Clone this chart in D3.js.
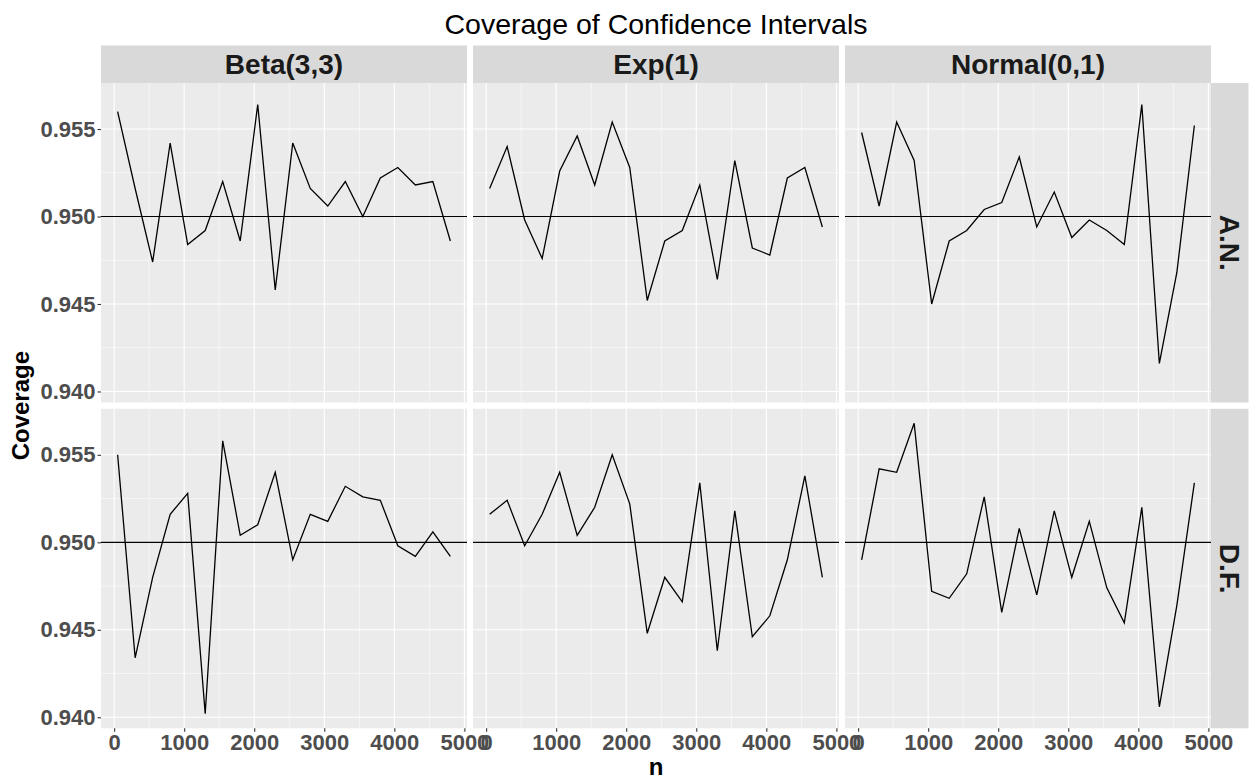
<!DOCTYPE html>
<meta charset="utf-8">
<style>

body {
  margin: 0;
  background-color: #fff;
}

svg {
  font-family: 'Liberation Sans', Arial, sans-serif;
  display: block;
}

.grid-major line {
  stroke: #fff;
  stroke-width: 1.1px;
}

.grid-minor line {
  stroke: #fff;
  stroke-width: 0.55px;
}

.axis path {
  display: none;
}

.axis line {
  stroke: #333;
  stroke-width: 1.1px;
}

.axis text {
  fill: #4d4d4d;
  font-size: 22px;
  font-weight: bold;
  font-family: 'Liberation Sans', Arial, sans-serif;
}

.strip text {
  fill: #1a1a1a;
  font-size: 28px;
  font-weight: bold;
}

</style>
<svg width="1250" height="779"></svg>
<script src="https://d3js.org/d3.v7.min.js"></script>
<script>
// sample sizes on the x axis
var nValues = [50, 300, 550, 800, 1050, 1300, 1550, 1800, 2050, 2300,
               2550, 2800, 3050, 3300, 3550, 3800, 4050, 4300, 4550, 4800];

var distributions = ["Beta(3,3)", "Exp(1)", "Normal(0,1)"];
var methods = ["A.N.", "D.F."];

// coverage
var betaAN   = [0.9560, 0.9516, 0.9474, 0.9542, 0.9484, 0.9492, 0.9520, 0.9486, 0.9564, 0.9458,
                0.9542, 0.9516, 0.9506, 0.9520, 0.9500, 0.9522, 0.9528, 0.9518, 0.9520, 0.9486];
var expAN    = [0.9516, 0.9540, 0.9498, 0.9476, 0.9526, 0.9546, 0.9518, 0.9554, 0.9528, 0.9452,
                0.9486, 0.9492, 0.9518, 0.9464, 0.9532, 0.9482, 0.9478, 0.9522, 0.9528, 0.9494];
var normalAN = [0.9548, 0.9506, 0.9554, 0.9532, 0.9450, 0.9486, 0.9492, 0.9504, 0.9508, 0.9534,
                0.9494, 0.9514, 0.9488, 0.9498, 0.9492, 0.9484, 0.9564, 0.9416, 0.9468, 0.9552];
var betaDF   = [0.9550, 0.9434, 0.9480, 0.9516, 0.9528, 0.9402, 0.9558, 0.9504, 0.9510, 0.9540,
                0.9490, 0.9516, 0.9512, 0.9532, 0.9526, 0.9524, 0.9498, 0.9492, 0.9506, 0.9492];
var expDF    = [0.9516, 0.9524, 0.9498, 0.9516, 0.9540, 0.9504, 0.9520, 0.9550, 0.9522, 0.9448,
                0.9480, 0.9466, 0.9534, 0.9438, 0.9518, 0.9446, 0.9458, 0.9490, 0.9538, 0.9480];
var normalDF = [0.9490, 0.9542, 0.9540, 0.9568, 0.9472, 0.9468, 0.9482, 0.9526, 0.9460, 0.9508,
                0.9470, 0.9518, 0.9480, 0.9512, 0.9474, 0.9454, 0.9520, 0.9406, 0.9464, 0.9534];

var nominal = 0.95;
var xTicks = [0, 1000, 2000, 3000, 4000, 5000];
var xMinor = [500, 1500, 2500, 3500, 4500];
var yTicks = [0.940, 0.945, 0.950, 0.955];
var yMinor = [0.9425, 0.9475, 0.9525];

var series = [
  [betaAN, expAN, normalAN],
  [betaDF, expDF, normalDF]
];

var svg = d3.select("svg");

var panelLeft = 101,
    panelW = 366,
    gapX = 6,
    panelTop = 83,
    panelH = 319.5,
    gapY = 6.3,
    stripH = 37.5,
    stripW = 37.5;

// ggplot style 5% expansion
function expand(ext) {
  var d = (ext[1] - ext[0]) * 0.05;
  return [ext[0] - d, ext[1] + d];
}

var allY = [].concat(betaAN, expAN, normalAN, betaDF, expDF, normalDF);

var x = d3.scaleLinear()
    .domain(expand(d3.extent(nValues)))
    .range([0, panelW]);

var y = d3.scaleLinear()
    .domain(expand(d3.extent(allY)))
    .range([panelH, 0]);

var line = d3.line()
    .x(function(d, i) { return x(nValues[i]); })
    .y(function(d) { return y(d); });

methods.forEach(function(m, r) {
  distributions.forEach(function(dist, c) {
    var px = panelLeft + c * (panelW + gapX),
        py = panelTop + r * (panelH + gapY);

    var g = svg.append("g").attr("transform", "translate(" + px + "," + py + ")");

    g.append("rect")
        .attr("width", panelW)
        .attr("height", panelH)
        .attr("fill", "#ebebeb");

    var minor = g.append("g").attr("class", "grid-minor");
    minor.selectAll(".vx").data(xMinor).enter().append("line")
        .attr("x1", x).attr("x2", x).attr("y1", 0).attr("y2", panelH);
    minor.selectAll(".hy").data(yMinor).enter().append("line")
        .attr("y1", y).attr("y2", y).attr("x1", 0).attr("x2", panelW);

    var major = g.append("g").attr("class", "grid-major");
    major.selectAll(".vx").data(xTicks).enter().append("line")
        .attr("x1", x).attr("x2", x).attr("y1", 0).attr("y2", panelH);
    major.selectAll(".hy").data(yTicks).enter().append("line")
        .attr("y1", y).attr("y2", y).attr("x1", 0).attr("x2", panelW);

    // reference line at nominal level
    g.append("line")
        .attr("x1", 0).attr("x2", panelW)
        .attr("y1", y(nominal)).attr("y2", y(nominal))
        .attr("stroke", "#000")
        .attr("stroke-width", 1.2);

    g.append("path")
        .datum(series[r][c])
        .attr("d", line)
        .attr("fill", "none")
        .attr("stroke", "#000")
        .attr("stroke-width", 1.3);

    // column strip on top
    if (r == 0) {
      var s = svg.append("g").attr("class", "strip")
          .attr("transform", "translate(" + px + "," + (panelTop - stripH) + ")");
      s.append("rect").attr("width", panelW).attr("height", stripH).attr("fill", "#d9d9d9");
      s.append("text")
          .attr("x", panelW / 2)
          .attr("y", stripH / 2 + 10)
          .attr("text-anchor", "middle")
          .text(dist);
    }

    // row strip on right
    if (c == distributions.length - 1) {
      var s2 = svg.append("g").attr("class", "strip")
          .attr("transform", "translate(" + (px + panelW) + "," + py + ")");
      s2.append("rect").attr("width", stripW).attr("height", panelH).attr("fill", "#d9d9d9");
      s2.append("text")
          .attr("transform", "translate(" + (stripW / 2 - 10) + "," + (panelH / 2) + ") rotate(90)")
          .attr("text-anchor", "middle")
          .text(m);
    }

    if (c == 0) {
      g.append("g")
          .attr("class", "axis")
          .call(d3.axisLeft(y).tickValues(yTicks).tickFormat(d3.format(".3f")).tickSize(3.5).tickPadding(2));
    }

    if (r == methods.length - 1) {
      g.append("g")
          .attr("class", "axis")
          .attr("transform", "translate(0," + panelH + ")")
          .call(d3.axisBottom(x).tickValues(xTicks).tickFormat(d3.format("d")).tickSize(3.5).tickPadding(3));
    }
  });
});

var plotRight = panelLeft + 3 * panelW + 2 * gapX;

svg.append("text")
    .attr("x", (panelLeft + plotRight) / 2)
    .attr("y", 34)
    .attr("text-anchor", "middle")
    .attr("font-size", "28.5px")
    .attr("fill", "#000")
    .text("Coverage of Confidence Intervals");

svg.append("text")
    .attr("x", (panelLeft + plotRight) / 2)
    .attr("y", 775)
    .attr("text-anchor", "middle")
    .attr("font-size", "24px")
    .attr("font-weight", "bold")
    .attr("fill", "#000")
    .text("n");

svg.append("text")
    .attr("transform", "translate(29," + (panelTop + panelH + gapY / 2) + ") rotate(-90)")
    .attr("text-anchor", "middle")
    .attr("font-size", "24px")
    .attr("font-weight", "bold")
    .attr("fill", "#000")
    .text("Coverage");

</script>
